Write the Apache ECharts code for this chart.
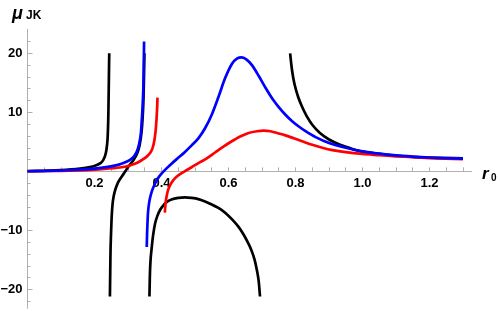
<!DOCTYPE html>
<html>
<head>
<meta charset="utf-8">
<script src="https://cdn.jsdelivr.net/npm/echarts@6/dist/echarts.min.js"></script>
<style>
html,body{margin:0;padding:0;background:#fff;}
#c{width:500px;height:311px;}
</style>
</head>
<body>
<div id="c"></div>
<script>
// ---- data ----
const xTickValues = [0.2, 0.4, 0.6, 0.8, 1.0, 1.2];
const xAllTickValues = [0.05,0.1,0.15,0.2,0.25,0.3,0.35,0.4,0.45,0.5,0.55,0.6,0.65,0.7,0.75,0.8,0.85,0.9,0.95,1.0,1.05,1.1,1.15,1.2,1.25,1.3];
const yTickValues = [-20, -10, 10, 20];
const yMinorTickValues = [-22,-18,-16,-14,-12,-8,-6,-4,-2,2,4,6,8,12,14,16,18,22];

const black1 = [[0,0.03],[0.05,0.1],[0.1,0.2],[0.157,0.45],[0.19,0.75],[0.207,1.07],[0.218,1.4],[0.226,1.9],[0.232,2.7],[0.236,3.8],[0.239,5.5],[0.241,8.7],[0.242,12],[0.243,16],[0.244,20]];
const black2 = [[0.246,-21.2],[0.247,-17],[0.248,-13],[0.25,-9.5],[0.252,-7],[0.255,-5],[0.26,-3.5],[0.27,-1.9],[0.281,-0.9],[0.292,0],[0.301,0.8],[0.316,1.9],[0.327,3],[0.335,4.5],[0.341,7],[0.345,10.5],[0.347,14],[0.349,20]];
const black3 = [[0.364,-21.2],[0.365,-18.5],[0.366,-16.5],[0.368,-14.5],[0.371,-12.8],[0.375,-10.8],[0.381,-8.8],[0.388,-7.5],[0.396,-6.5],[0.405,-5.8],[0.415,-5.2],[0.43,-4.75],[0.45,-4.5],[0.47,-4.4],[0.49,-4.5],[0.51,-4.7],[0.53,-5.1],[0.55,-5.6],[0.57,-6.2],[0.59,-7.0],[0.61,-8.1],[0.63,-9.4],[0.645,-10.7],[0.66,-12.3],[0.67,-13.6],[0.678,-15],[0.685,-16.8],[0.69,-18.5],[0.694,-21.2]];
const black4 = [[0.784,20],[0.79,17],[0.797,14.8],[0.808,12.6],[0.82,10.9],[0.833,9.4],[0.85,7.9],[0.873,6.5],[0.9,5.4],[0.933,4.5],[0.97,3.8],[1.0,3.35],[1.05,2.95],[1.1,2.65],[1.15,2.45],[1.2,2.32],[1.25,2.25],[1.3,2.2]];

const red1 = [[0,0.02],[0.1,0.1],[0.177,0.22],[0.23,0.4],[0.276,0.65],[0.306,1.0],[0.326,1.4],[0.341,1.9],[0.356,2.5],[0.366,3.1],[0.373,3.9],[0.378,5.0],[0.382,6.6],[0.385,8.7],[0.387,10.8],[0.388,12.5]];
const red2 = [[0.41,-7.0],[0.412,-5.5],[0.415,-4.3],[0.42,-3.1],[0.427,-2.2],[0.435,-1.5],[0.445,-0.9],[0.46,-0.3],[0.475,0.2],[0.49,0.7],[0.51,1.4],[0.535,2.2],[0.56,3.2],[0.585,4.2],[0.61,5.1],[0.635,5.9],[0.66,6.5],[0.685,6.8],[0.705,6.9],[0.725,6.8],[0.745,6.5],[0.77,6.1],[0.795,5.6],[0.82,5.1],[0.85,4.5],[0.88,4.0],[0.91,3.6],[0.95,3.25],[1.0,2.95],[1.05,2.75],[1.1,2.55],[1.15,2.4],[1.2,2.25],[1.25,2.15],[1.3,2.05]];

const blue1 = [[0,0.02],[0.05,0.08],[0.1,0.15],[0.15,0.28],[0.2,0.45],[0.24,0.75],[0.27,1.1],[0.29,1.5],[0.305,1.9],[0.316,2.4],[0.326,3.3],[0.333,4.6],[0.338,6.2],[0.341,8.5],[0.344,11.5],[0.346,14.5],[0.347,18],[0.348,22]];
const blue2 = [[0.356,-12.8],[0.357,-10.5],[0.358,-9],[0.36,-6.8],[0.364,-5],[0.37,-3.6],[0.378,-2.4],[0.388,-1.3],[0.40,-0.4],[0.415,0.5],[0.43,1.3],[0.45,2.3],[0.47,3.3],[0.49,4.4],[0.51,5.6],[0.53,7.3],[0.55,9.6],[0.57,12.6],[0.59,15.8],[0.61,18.2],[0.625,19.1],[0.64,19.3],[0.655,18.9],[0.67,18.0],[0.69,16.2],[0.71,14.2],[0.73,12.4],[0.75,10.9],[0.77,9.6],[0.79,8.5],[0.81,7.6],[0.83,6.8],[0.86,5.8],[0.9,4.8],[0.95,4.0],[1.0,3.4],[1.05,3.0],[1.1,2.7],[1.15,2.5],[1.2,2.35],[1.25,2.25],[1.3,2.15]];

// ---- chart ----
const chart = echarts.init(document.getElementById('c'), null, {renderer: 'canvas'});
const axisGray = '#b0b0b0';
const labelFont = {color: '#000', fontFamily: 'Liberation Sans, Arial, sans-serif', fontWeight: 'bold', fontSize: 13};
const X_MIN = 0, X_MAX = 1.326, Y_MIN = -23.2, Y_MAX = 24.07;
const GRID = {left: 27.5, right: 28.3, top: 29.3, bottom: 2.7};

function line(data, color) {
  return {type: 'line', data: data, showSymbol: false, symbol: 'none', smooth: 0.3,
    xAxisIndex: 0, yAxisIndex: 0, silent: true, animation: false,
    lineStyle: {color: color, width: 2.7}};
}

function buildOption(labelOffset) {
  return {
    animation: false,
    grid: Object.assign({containLabel: false, outerBoundsMode: 'none'}, GRID),
    xAxis: [
      {type: 'value', min: X_MIN, max: X_MAX, position: 'bottom',
       axisLine: {show: true, onZero: true, lineStyle: {color: axisGray, width: 1}},
       axisTick: {show: true, inside: true, length: 4, customValues: xAllTickValues, lineStyle: {color: axisGray}},
       axisLabel: {show: false},
       splitLine: {show: false}},
      {type: 'value', min: X_MIN, max: X_MAX, position: 'bottom', offset: labelOffset,
       axisLine: {show: false, onZero: false},
       axisTick: {show: false},
       axisLabel: Object.assign({show: true, margin: 6, customValues: xTickValues,
         formatter: v => v.toFixed(1)}, labelFont),
       splitLine: {show: false}}
    ],
    yAxis: [
      {type: 'value', min: Y_MIN, max: Y_MAX, position: 'left',
       axisLine: {show: true, onZero: false, lineStyle: {color: axisGray, width: 1}},
       axisTick: {show: true, inside: true, length: 5, customValues: yTickValues, lineStyle: {color: axisGray}},
       axisLabel: Object.assign({show: true, margin: 5, customValues: yTickValues,
         formatter: v => (v < 0 ? '\u2212' + Math.abs(v) : String(v))}, labelFont),
       splitLine: {show: false}},
      {type: 'value', min: Y_MIN, max: Y_MAX, position: 'left',
       axisLine: {show: false, onZero: false},
       axisTick: {show: true, inside: true, length: 3, customValues: yMinorTickValues, lineStyle: {color: axisGray}},
       axisLabel: {show: false},
       splitLine: {show: false}}
    ],
    series: [
      line(black1, '#000000'), line(black2, '#000000'), line(black3, '#000000'), line(black4, '#000000'),
      line(red1, '#ff0000'), line(red2, '#ff0000'),
      line(blue1, '#0000ff'), line(blue2, '#0000ff')
    ],
    graphic: [
      {type: 'text', left: 12, top: 5, silent: true,
       style: {text: 'μ', fill: '#000', font: 'italic bold 18px "Liberation Sans", Arial, sans-serif'}},
      {type: 'text', left: 26, top: 10, silent: true,
       style: {text: 'JK', fill: '#000', font: 'bold 12px "Liberation Sans", Arial, sans-serif'}},
      {type: 'text', left: 482, top: 166, silent: true,
       style: {text: 'r', fill: '#000', font: 'italic bold 17px "Liberation Sans", Arial, sans-serif'}},
      {type: 'text', left: 491, top: 173, silent: true,
       style: {text: '0', fill: '#000', font: 'bold 10px "Liberation Sans", Arial, sans-serif'}}
    ]
  };
}

chart.setOption(buildOption(0));
// place the tick-label axis on the y = 0 line (labels of the on-zero axis)
const zeroPx = chart.convertToPixel({yAxisIndex: 0}, 0);
const gridBottomPx = chart.getHeight() - GRID.bottom;
chart.setOption(buildOption(-(gridBottomPx - zeroPx)));
</script>
</body>
</html>
